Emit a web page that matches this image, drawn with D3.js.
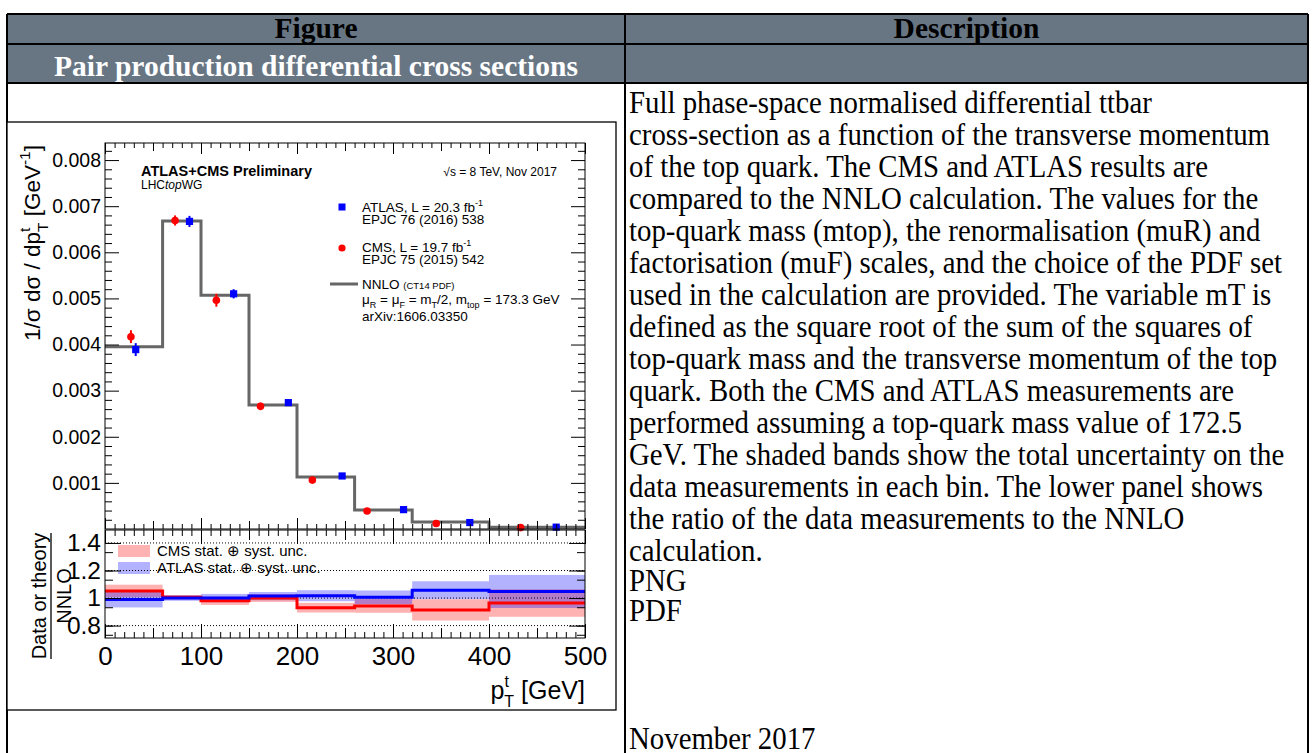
<!DOCTYPE html>
<html>
<head>
<meta charset="utf-8">
<script src="https://cdn.jsdelivr.net/npm/d3@7"></script>
<style>
  html, body { margin: 0; padding: 0; background: #fff; }
  svg { display: block; }
</style>
</head>
<body>
<svg id="page" width="1313" height="753"></svg>
<script>
// ---- data ----
const binEdges = [0, 60, 100, 150, 200, 260, 320, 400, 500];
const nnloValues = [0.00395, 0.00668, 0.00507, 0.00269, 0.00113, 0.00041, 0.00015, 0.00004];

const cmsX = [27, 73, 116, 162, 216, 273, 345, 433];
const cmsY = [0.00417, 0.00669, 0.00496, 0.00266, 0.00106, 0.00039, 0.00012, 0.00003];
const cmsErr = [0.00014, 0.00011, 0.00014, 0.00008, 0.00004, 0.00002, 0.00001, 0.000005];

const atlasX = [32, 88, 134, 191, 247, 311, 380, 470];
const atlasY = [0.00389, 0.00667, 0.00510, 0.00274, 0.00115, 0.00042, 0.00014, 0.00004];
const atlasErr = [0.00014, 0.00012, 0.00010, 0.00006, 0.00004, 0.00002, 0.00001, 0.000005];

const cmsRatio = [1.052, 1.005, 0.980, 1.000, 0.930, 0.943, 0.914, 0.964];
const cmsRatioErr = [0.045, 0.015, 0.030, 0.028, 0.035, 0.050, 0.077, 0.100];
const atlasRatio = [0.990, 1.000, 1.000, 1.014, 1.017, 1.005, 1.057, 1.048];
const atlasRatioErr = [0.058, 0.020, 0.030, 0.030, 0.040, 0.050, 0.065, 0.120];

const xTicks = [0, 100, 200, 300, 400, 500];
const yTicks = [0.001, 0.002, 0.003, 0.004, 0.005, 0.006, 0.007, 0.008];
const ratioTicks = [0.8, 1, 1.2, 1.4];

const descLines = [
    'Full phase-space normalised differential ttbar',
    'cross-section as a function of the transverse momentum',
    'of the top quark. The CMS and ATLAS results are',
    'compared to the NNLO calculation. The values for the',
    'top-quark mass (mtop), the renormalisation (muR) and',
    'factorisation (muF) scales, and the choice of the PDF set',
    'used in the calculation are provided. The variable mT is',
    'defined as the square root of the sum of the squares of',
    'top-quark mass and the transverse momentum of the top',
    'quark. Both the CMS and ATLAS measurements are',
    'performed assuming a top-quark mass value of 172.5',
    'GeV. The shaded bands show the total uncertainty on the',
    'data measurements in each bin. The lower panel shows',
    'the ratio of the data measurements to the NNLO',
    'calculation.'
];

const SANS = '"Liberation Sans", Arial, Helvetica, sans-serif';
const SERIF = '"Liberation Serif", "Times New Roman", serif';

const svg = d3.select('#page');

// ============ table around the figure ============
const tL = 7, tR = 1308, colSplit = 625;
svg.append('rect').attr('x', tL).attr('y', 14).attr('width', tR - tL).attr('height', 69)
    .attr('fill', '#687684');

const lines = svg.append('g').attr('stroke', '#000').attr('stroke-width', 2);
[14, 44, 83].forEach(y => lines.append('line').attr('x1', tL).attr('x2', tR).attr('y1', y).attr('y2', y));
[tL, colSplit, tR].forEach(x => lines.append('line').attr('x1', x).attr('x2', x).attr('y1', 14).attr('y2', 760));

const head = svg.append('g').attr('font-family', SERIF).attr('font-weight', 'bold')
    .attr('font-size', 29.5).attr('text-anchor', 'middle');
head.append('text').attr('x', (tL + colSplit) / 2).attr('y', 38).attr('fill', '#000').text('Figure');
head.append('text').attr('x', (colSplit + tR) / 2).attr('y', 38).attr('fill', '#000').text('Description');
head.append('text').attr('x', (tL + colSplit) / 2).attr('y', 76).attr('fill', '#fff')
    .text('Pair production differential cross sections');

// description text (the reference font is tall and narrow)
const desc = svg.append('g').attr('transform', 'translate(629,0) scale(0.93,1)')
    .attr('font-family', SERIF).attr('font-size', 31).attr('fill', '#000');
descLines.forEach((t, i) => desc.append('text').attr('x', 0).attr('y', 113 + i * 32).text(t));
desc.append('text').attr('x', 0).attr('y', 591).text('PNG');
desc.append('text').attr('x', 0).attr('y', 621).text('PDF');
desc.append('text').attr('x', 0).attr('y', 749).text('November 2017');

// ============ the chart image ============
svg.append('rect').attr('x', tL).attr('y', 122).attr('width', 616 - tL).attr('height', 588)
    .attr('fill', '#fff').attr('stroke', '#000').attr('stroke-width', 1.3);

const x = d3.scaleLinear().domain([0, 500]).range([105, 585]);
const yTop = d3.scaleLinear().domain([0, 0.00837]).range([529, 143]);
const yRat = d3.scaleLinear().domain([0.71, 1.494]).range([638, 530]);

const upper = svg.append('g');
const lower = svg.append('g');

// ---- upper panel: NNLO histogram ----
const stepPts = binEdges.map((e, i) => ({ x: e, y: nnloValues[Math.min(i, nnloValues.length - 1)] }));
const stepLine = d3.line().x(d => x(d.x)).y(d => yTop(d.y)).curve(d3.curveStepAfter);
upper.append('path').datum(stepPts).attr('d', stepLine)
    .attr('fill', 'none').attr('stroke', '#666').attr('stroke-width', 3);

// error bars + markers
function drawPoints(g, xs, ys, errs, color, shape) {
    xs.forEach((xv, i) => {
        g.append('line').attr('x1', x(xv)).attr('x2', x(xv))
            .attr('y1', yTop(ys[i] - errs[i])).attr('y2', yTop(ys[i] + errs[i]))
            .attr('stroke', color).attr('stroke-width', 2);
        if (shape === 'circle') {
            g.append('circle').attr('cx', x(xv)).attr('cy', yTop(ys[i])).attr('r', 3.8).attr('fill', color);
        } else {
            g.append('rect').attr('x', x(xv) - 3.6).attr('y', yTop(ys[i]) - 3.6)
                .attr('width', 7.2).attr('height', 7.2).attr('fill', color);
        }
    });
}
drawPoints(upper, cmsX, cmsY, cmsErr, '#ff0000', 'circle');
drawPoints(upper, atlasX, atlasY, atlasErr, '#0000ff', 'square');

// frame + ticks (upper)
upper.append('rect').attr('x', 105).attr('y', 143).attr('width', 480).attr('height', 386)
    .attr('fill', 'none').attr('stroke', '#000').attr('stroke-width', 1);

function tickAxis(g, axisFn, scale, values, size, tx, ty) {
    const a = g.append('g').attr('transform', `translate(${tx},${ty})`)
        .call(axisFn(scale).tickValues(values).tickSize(size).tickFormat(''));
    a.select('.domain').remove();
    a.selectAll('line').attr('stroke', '#000').attr('stroke-width', 1);
}
const xMinor = d3.range(0, 501, 10).filter(v => v % 50 !== 0);
const xHalf = [50, 150, 250, 350, 450];
const yMinor = d3.range(0, 42).map(k => k * 0.0002).filter((v, i) => i % 5 !== 0);
const rMinor = d3.range(-1, 12).map(k => 0.8 + k * 0.2 / 3).filter((v, i) => (i + 1) % 3 !== 0 && v > 0.71 && v < 1.494);

// upper x ticks: bottom (pointing up) and top (pointing down)
[[d3.axisTop, 529], [d3.axisBottom, 143]].forEach(([fn, ty]) => {
    tickAxis(upper, fn, x, xTicks, 11, 0, ty);
    tickAxis(upper, fn, x, xHalf, 8, 0, ty);
    tickAxis(upper, fn, x, xMinor, 5, 0, ty);
});
// upper y ticks: left (pointing right) and right (pointing left)
[[d3.axisRight, 105], [d3.axisLeft, 585]].forEach(([fn, tx]) => {
    tickAxis(upper, fn, yTop, yTicks, 14, tx, 0);
    tickAxis(upper, fn, yTop, yMinor, 7, tx, 0);
});

// y labels
const yLab = upper.append('g').attr('transform', 'translate(101,0)')
    .call(d3.axisLeft(yTop).tickValues(yTicks).tickSize(0).tickPadding(0).tickFormat(d3.format('.3f')));
yLab.select('.domain').remove();
yLab.selectAll('text').attr('font-family', SANS).attr('font-size', 19.5).attr('fill', '#000');

// y title
const yt = upper.append('text').attr('transform', 'translate(40,145) rotate(-90)')
    .attr('text-anchor', 'end').attr('font-family', SANS).attr('font-size', 22.5).attr('fill', '#000');
yt.append('tspan').text('1/σ dσ / dp');
yt.append('tspan').attr('font-size', 15.5).attr('dy', -10).text('t');
yt.append('tspan').attr('font-size', 15.5).attr('dx', -4.5).attr('dy', 18).text('T');
yt.append('tspan').attr('dy', -8).text(' [GeV');
yt.append('tspan').attr('font-size', 15.5).attr('dy', -10).text('-1');
yt.append('tspan').attr('dy', 10).text(']');

// labels in the upper panel
const ann = upper.append('g').attr('font-family', SANS).attr('fill', '#000');
ann.append('text').attr('x', 141).attr('y', 176).attr('font-size', 14.5).attr('font-weight', 'bold')
    .text('ATLAS+CMS Preliminary');
const lhc = ann.append('text').attr('x', 141).attr('y', 189).attr('font-size', 12);
lhc.append('tspan').text('LHC');
lhc.append('tspan').attr('font-style', 'italic').text('top');
lhc.append('tspan').text('WG');
ann.append('text').attr('x', 557).attr('y', 176).attr('font-size', 12).attr('text-anchor', 'end')
    .text('√s = 8 TeV, Nov 2017');

// legend (upper)
const LF = 13.5, LS = 9;
ann.append('rect').attr('x', 338.5).attr('y', 203.5).attr('width', 7).attr('height', 7).attr('fill', '#0000ff');
const la = ann.append('text').attr('x', 362).attr('y', 212).attr('font-size', LF);
la.append('tspan').text('ATLAS, L = 20.3 fb');
la.append('tspan').attr('font-size', LS).attr('dy', -6).text('-1');
ann.append('text').attr('x', 362).attr('y', 224).attr('font-size', LF).text('EPJC 76 (2016) 538');

ann.append('circle').attr('cx', 342).attr('cy', 248).attr('r', 3.6).attr('fill', '#ff0000');
const lc = ann.append('text').attr('x', 362).attr('y', 252).attr('font-size', LF);
lc.append('tspan').text('CMS, L = 19.7 fb');
lc.append('tspan').attr('font-size', LS).attr('dy', -6).text('-1');
ann.append('text').attr('x', 362).attr('y', 264).attr('font-size', LF).text('EPJC 75 (2015) 542');

ann.append('line').attr('x1', 330).attr('x2', 358).attr('y1', 284).attr('y2', 284)
    .attr('stroke', '#666').attr('stroke-width', 3);
const ln = ann.append('text').attr('x', 362).attr('y', 289).attr('font-size', LF);
ln.append('tspan').text('NNLO ');
ln.append('tspan').attr('font-size', 9.5).text('(CT14 PDF)');

const mu = ann.append('text').attr('x', 362).attr('y', 304).attr('font-size', LF);
mu.append('tspan').text('μ');
mu.append('tspan').attr('font-size', LS).attr('dy', 4).text('R');
mu.append('tspan').attr('dy', -4).text(' = μ');
mu.append('tspan').attr('font-size', LS).attr('dy', 4).text('F');
mu.append('tspan').attr('dy', -4).text(' = m');
mu.append('tspan').attr('font-size', LS).attr('dy', 4).text('T');
mu.append('tspan').attr('dy', -4).text('/2, m');
mu.append('tspan').attr('font-size', LS).attr('dy', 4).text('top');
mu.append('tspan').attr('dy', -4).text(' = 173.3 GeV');
ann.append('text').attr('x', 362).attr('y', 321).attr('font-size', LF).text('arXiv:1606.03350');

// ---- lower panel: ratio ----
function bandRects(g, vals, errs, color) {
    vals.forEach((v, i) => {
        g.append('rect').attr('x', x(binEdges[i])).attr('width', x(binEdges[i + 1]) - x(binEdges[i]))
            .attr('y', yRat(v + errs[i])).attr('height', yRat(v - errs[i]) - yRat(v + errs[i]))
            .attr('fill', color).attr('fill-opacity', 0.3);
    });
}
bandRects(lower, cmsRatio, cmsRatioErr, '#ff0000');
bandRects(lower, atlasRatio, atlasRatioErr, '#0000ff');

// legend (lower)
lower.append('rect').attr('x', 118).attr('y', 545).attr('width', 32).attr('height', 12)
    .attr('fill', '#ff0000').attr('fill-opacity', 0.3);
lower.append('rect').attr('x', 118).attr('y', 562).attr('width', 32).attr('height', 12)
    .attr('fill', '#0000ff').attr('fill-opacity', 0.3);
lower.append('text').attr('x', 157).attr('y', 556).attr('font-family', SANS).attr('font-size', 15)
    .text('CMS stat. ⊕ syst. unc.');
lower.append('text').attr('x', 157).attr('y', 573).attr('font-family', SANS).attr('font-size', 15)
    .text('ATLAS stat. ⊕ syst. unc.');

// dotted reference lines
ratioTicks.forEach(v => lower.append('line').attr('x1', 105).attr('x2', 585)
    .attr('y1', yRat(v)).attr('y2', yRat(v))
    .attr('stroke', '#000').attr('stroke-width', 1).attr('stroke-dasharray', '1,2'));

// ratio step lines
function ratioStep(vals) {
    return binEdges.map((e, i) => ({ x: e, y: vals[Math.min(i, vals.length - 1)] }));
}
const rLine = d3.line().x(d => x(d.x)).y(d => yRat(d.y)).curve(d3.curveStepAfter);
lower.append('path').datum(ratioStep(cmsRatio)).attr('d', rLine)
    .attr('fill', 'none').attr('stroke', '#ff0000').attr('stroke-width', 3);
lower.append('path').datum(ratioStep(atlasRatio)).attr('d', rLine)
    .attr('fill', 'none').attr('stroke', '#0000ff').attr('stroke-width', 3);

// frame + ticks (lower)
lower.append('rect').attr('x', 105).attr('y', 530).attr('width', 480).attr('height', 108)
    .attr('fill', 'none').attr('stroke', '#000').attr('stroke-width', 1);
[[d3.axisTop, 638], [d3.axisBottom, 530]].forEach(([fn, ty]) => {
    tickAxis(lower, fn, x, xTicks, 14, 0, ty);
    tickAxis(lower, fn, x, xHalf, 10, 0, ty);
    tickAxis(lower, fn, x, xMinor, 6, 0, ty);
});
[[d3.axisRight, 105], [d3.axisLeft, 585]].forEach(([fn, tx]) => {
    tickAxis(lower, fn, yRat, ratioTicks, 16, tx, 0);
    tickAxis(lower, fn, yRat, rMinor, 8, tx, 0);
});

const rLab = lower.append('g').attr('transform', 'translate(101,0)')
    .call(d3.axisLeft(yRat).tickValues(ratioTicks).tickSize(0).tickPadding(0).tickFormat(d3.format('~g')));
rLab.select('.domain').remove();
rLab.selectAll('text').attr('font-family', SANS).attr('font-size', 24.5).attr('fill', '#000');

const xLab = lower.append('g').attr('transform', 'translate(0,647)')
    .call(d3.axisBottom(x).tickValues(xTicks).tickSize(0).tickPadding(0));
xLab.select('.domain').remove();
xLab.selectAll('text').attr('font-family', SANS).attr('font-size', 26).attr('fill', '#000');

// x title
const xt = lower.append('text').attr('x', 585).attr('y', 699).attr('text-anchor', 'end')
    .attr('font-family', SANS).attr('font-size', 25).attr('fill', '#000');
xt.append('tspan').text('p');
xt.append('tspan').attr('font-size', 16).attr('dy', -12).text('t');
xt.append('tspan').attr('font-size', 16).attr('dx', -4.5).attr('dy', 20).text('T');
xt.append('tspan').attr('dy', -8).text(' [GeV]');

// lower y title: Data or theory / NNLO
const rt = lower.append('g').attr('transform', 'translate(0,596) rotate(-90)')
    .attr('font-family', SANS).attr('font-size', 20).attr('fill', '#000');
rt.append('text').attr('x', 0).attr('y', 46).attr('text-anchor', 'middle').text('Data or theory');
rt.append('line').attr('x1', -63).attr('x2', 63).attr('y1', 51).attr('y2', 51)
    .attr('stroke', '#000').attr('stroke-width', 1.3);
rt.append('text').attr('x', 0).attr('y', 71).attr('text-anchor', 'middle').text('NNLO');
</script>
</body>
</html>
